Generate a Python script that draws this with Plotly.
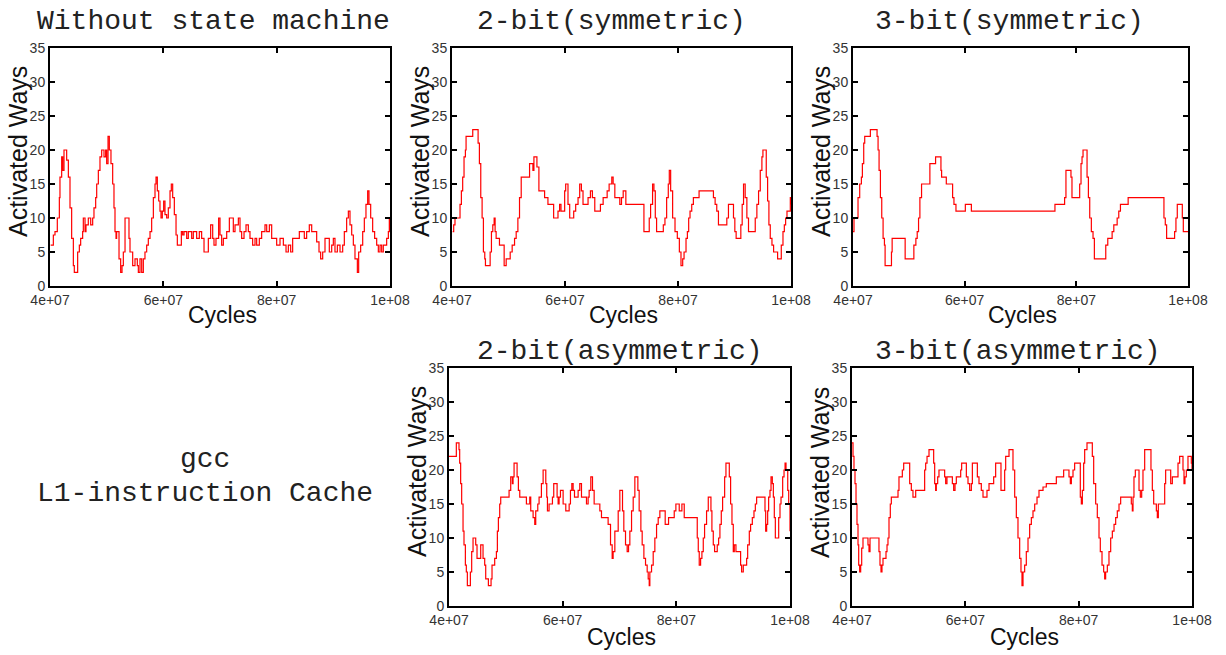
import plotly.graph_objects as go

W, H = 1226, 655

# ---------------- data (cycles in millions, activated ways) ----------------
nosm_x = [40.12, 40.59, 40.88, 41.29, 41.65, 41.76, 42.06, 42.24, 42.47, 42.76, 42.94, 43.24, 43.53, 43.82,
          44.12, 44.29, 44.71, 44.88, 45.18, 45.41, 45.76, 45.88, 46.18, 46.35, 46.76, 47.18, 47.53, 47.76,
          48.06, 48.24, 48.53, 48.82, 49.12, 49.53, 49.82, 50.0, 50.24, 50.47, 50.76, 51.06, 51.29, 51.47,
          51.65, 51.76, 52.06, 52.18, 52.47, 52.71, 52.94, 53.24, 53.71, 53.94, 54.12, 54.47, 54.59, 55.0,
          55.41, 55.59, 55.88, 56.18, 56.47, 56.76, 57.06, 57.35, 57.65, 57.94, 58.24, 58.53, 58.71, 58.94,
          59.18, 59.41, 59.59, 59.82, 60.06, 60.29, 60.59, 60.88, 61.18, 61.41, 61.65, 61.94, 62.24, 62.47,
          62.94, 63.18, 63.41, 63.65, 64.12, 64.41, 65.0, 65.29, 65.88, 66.35, 66.76, 67.18, 67.94, 68.35,
          68.71, 68.94, 69.29, 69.76, 70.0, 70.29, 70.59, 71.18, 71.65, 72.06, 72.35, 72.65, 72.94, 73.24,
          73.53, 73.82, 74.24, 74.59, 75.0, 75.29, 75.76, 76.18, 76.47, 76.94, 77.35, 77.94, 78.24, 78.71,
          79.12, 79.71, 80.0, 80.59, 81.18, 81.65, 82.06, 82.47, 82.82, 83.53, 84.0, 84.59, 84.88, 85.29,
          85.76, 86.18, 86.76, 87.06, 87.47, 87.76, 88.12, 88.53, 88.94, 89.29, 89.71, 90.0, 90.29, 90.71,
          91.18, 91.65, 91.94, 92.35, 92.65, 92.94, 93.24, 93.53, 93.82, 94.24, 94.47, 94.82, 95.18, 95.47,
          95.76, 96.06, 96.29, 96.59, 96.94, 97.29, 97.65, 97.94, 98.24, 98.53, 98.82, 99.12, 99.41, 99.71,
          99.88, 100.0]
nosm_y = [6, 7.5, 8, 10, 13, 16, 19, 17, 20, 20, 18.5, 16, 11.5, 7,
          3, 2, 2, 5, 6, 7, 8, 10, 8, 9, 10, 9, 10, 11.5,
          13, 15, 17, 19, 20, 19, 20, 18, 22, 20, 18, 15, 11.5, 8,
          7, 8, 8, 4, 2, 3, 5, 10, 10, 7, 5, 5, 3, 4,
          3, 2, 4, 2, 4, 5, 6, 7, 8, 10, 13, 15, 16, 14,
          12.5, 11, 10, 11, 12.5, 10.5, 10, 11.5, 14, 15, 13, 10.5, 7.5, 6,
          6, 8, 7.5, 8, 7, 8, 7, 8, 7, 8, 7, 5, 7, 9,
          7, 6, 7, 10, 7.5, 6, 7, 8, 10, 10, 8, 9, 9, 10,
          8, 7, 8, 9, 8, 7, 6, 7, 6, 7, 8, 9, 8, 9,
          7, 7, 6, 7, 6, 5, 6, 5, 7, 7, 8, 8, 7, 8,
          9, 8, 8, 6.5, 5, 4, 5, 7, 7, 5, 6, 7, 5, 6,
          5, 6, 8, 10, 11, 9, 7.5, 6, 4, 2, 5, 6, 8, 10,
          12, 14, 12, 10, 8, 7, 6, 5, 6, 5, 6, 6, 7, 8,
          10, 8]

sym2_x = [40.12, 40.30, 40.53, 41.18, 41.42, 41.66, 41.89, 42.13, 42.37, 42.49, 43.55, 43.67, 44.44, 44.62,
          44.85, 45.09, 45.33, 45.56, 45.80, 45.92, 46.51, 46.75, 46.98, 47.22, 47.46, 47.63, 47.81, 48.28,
          48.40, 49.11, 49.23, 49.47, 49.59, 50.06, 50.30, 50.65, 51.07, 51.36, 51.66, 51.95, 52.25, 53.43,
          53.73, 54.14, 54.32, 54.50, 54.79, 55.03, 55.38, 56.09, 56.39, 56.98, 57.75, 57.99, 58.46, 58.76,
          59.05, 59.29, 59.64, 59.94, 60.12, 60.35, 60.53, 60.83, 61.30, 61.54, 61.89, 62.31, 62.60, 62.90,
          63.19, 63.79, 64.08, 64.50, 64.85, 65.27, 66.03, 66.27, 66.75, 67.46, 67.81, 68.17, 68.28, 68.52,
          68.82, 69.41, 69.70, 70.00, 70.30, 70.59, 70.77, 73.85, 73.97, 74.73, 74.91, 75.15, 75.50, 75.74,
          75.98, 76.21, 77.10, 77.40, 77.69, 77.99, 78.28, 78.46, 78.70, 79.05, 79.47, 79.88, 80.24, 80.53,
          80.83, 81.07, 81.42, 81.66, 81.89, 82.13, 82.43, 82.72, 83.43, 83.73, 85.98, 86.27, 86.57, 86.86,
          87.16, 88.34, 88.64, 88.93, 89.53, 89.82, 90.06, 90.29, 90.89, 91.12, 91.36, 91.60, 91.89, 92.19,
          92.48, 93.37, 93.67, 93.96, 94.26, 94.56, 94.85, 95.03, 95.32, 95.62, 95.86, 96.09, 96.33, 96.63,
          96.92, 97.51, 97.63, 98.11, 98.28, 98.58, 98.82, 99.05, 99.29, 99.64, 99.88, 100.0]
sym2_y = [8, 9, 10, 10, 12, 14, 16, 19, 20, 22, 22, 23, 23, 21,
          18, 13, 10, 5, 4, 3, 3, 5, 8, 9, 10, 8, 7, 7,
          6, 6, 3, 3, 4, 4, 5, 6, 7, 8, 10, 13, 16, 16,
          18, 18, 17, 19, 19, 17.5, 14, 14, 13, 12, 12, 10, 10, 11,
          12, 11, 11, 14, 15, 15, 12, 10, 10, 11, 12, 13, 15, 14,
          12, 12, 13, 14, 13, 11, 11, 12, 13, 14, 15, 15, 16, 15,
          13, 13, 12, 13, 14, 14, 12, 12, 8, 8, 10, 12, 15, 14,
          10, 8, 8, 9, 10, 13, 15, 17, 14, 10, 8, 7, 5, 3,
          4, 5, 7, 8, 10, 11, 12, 13, 13, 14, 14, 13, 12, 11,
          9, 9, 10, 12, 12, 10, 8, 7, 7, 9, 12, 15, 13, 10,
          8, 8, 10, 12, 14, 17, 19, 20, 20, 16, 12.5, 9, 7, 6,
          5, 5, 4, 4, 6, 8, 9, 10, 11, 11, 13, 12]

sym3_x = [40.0, 40.18, 40.72, 40.90, 41.20, 41.50, 41.68, 41.92, 42.10, 42.99, 43.11, 44.07, 44.31, 44.49,
          44.67, 44.91, 45.15, 45.39, 45.63, 45.75, 46.71, 46.89, 47.01, 49.28, 49.34, 50.78, 50.90, 51.26,
          51.50, 51.74, 51.98, 52.28, 53.65, 53.77, 54.67, 54.79, 55.57, 55.75, 55.87, 56.59, 56.71, 57.66,
          57.84, 58.08, 58.44, 60.00, 60.12, 61.08, 61.20, 76.05, 76.17, 77.72, 77.90, 78.14, 78.80, 79.04,
          79.22, 80.42, 80.60, 80.84, 81.02, 81.20, 81.68, 81.92, 82.16, 82.40, 82.69, 82.99, 83.23, 85.03,
          85.27, 85.63, 86.11, 86.41, 86.71, 87.19, 87.31, 87.60, 87.90, 89.10, 89.28, 95.57, 95.69, 95.93,
          96.17, 97.37, 97.60, 97.84, 98.08, 98.80, 98.98, 99.16, 100.0]
sym3_y = [8, 10, 10, 13, 15, 16, 18, 21, 22, 22, 23, 23, 22, 20,
          17, 13, 10, 7, 6, 3, 3, 5, 7, 7, 4, 4, 6, 7,
          8, 10, 13, 15, 15, 18, 18, 19, 19, 17, 16, 16, 15, 15,
          13, 12, 11, 11, 12, 12, 11, 11, 12, 12, 13, 17, 17, 16,
          13, 13, 15, 18, 19, 20, 20, 16, 13, 10, 8, 7, 4, 4,
          6, 7, 7, 8, 9, 9, 10, 11, 12, 12, 13, 13, 10, 9,
          7, 7, 8, 10, 12, 12, 10, 8, 8]

asym2_x = [40.0, 41.0, 41.29, 41.59, 41.76, 41.88, 42.05, 42.23, 42.47, 42.64, 42.88, 43.05, 43.23, 43.64,
           43.76, 43.99, 44.23, 44.58, 44.70, 44.93, 45.40, 45.58, 45.75, 45.99, 46.28, 46.46, 46.81, 46.93,
           47.28, 47.40, 47.57, 47.87, 48.04, 48.34, 48.51, 48.69, 48.92, 49.10, 50.39, 50.57, 50.86, 51.15,
           51.27, 51.45, 51.74, 51.98, 52.21, 52.45, 53.33, 53.62, 54.09, 54.21, 54.38, 54.80, 55.09, 55.26,
           55.62, 55.85, 56.26, 56.56, 56.85, 57.03, 57.20, 57.32, 57.61, 58.02, 58.20, 58.43, 58.79, 59.02,
           59.20, 59.37, 59.61, 60.08, 60.55, 60.96, 61.14, 61.37, 61.61, 61.84, 62.08, 62.43, 62.72, 63.01,
           63.31, 63.89, 64.19, 64.48, 64.66, 64.95, 65.25, 65.54, 66.24, 66.54, 66.83, 67.83, 68.00, 68.18,
           68.42, 68.71, 68.88, 69.18, 69.47, 69.77, 70.06, 70.35, 70.53, 70.76, 71.06, 71.35, 71.59, 71.82,
           72.12, 72.41, 72.70, 73.00, 73.23, 73.46, 73.76, 73.99, 74.29, 74.58, 74.87, 75.05, 75.23, 75.34,
           75.64, 75.93, 76.22, 76.52, 76.81, 77.10, 77.81, 78.04, 78.40, 78.63, 79.45, 79.63, 79.92, 80.33,
           80.51, 80.80, 80.98, 81.21, 81.39, 83.45, 83.68, 83.86, 84.03, 84.27, 84.50, 84.74, 84.97, 85.32,
           85.62, 85.91, 86.09, 86.26, 86.50, 86.73, 86.97, 87.20, 87.44, 87.67, 87.91, 88.14, 88.50, 88.73,
           89.08, 89.32, 89.55, 89.79, 90.02, 90.20, 90.31, 90.49, 91.08, 91.31, 91.49, 91.78, 92.08, 92.37,
           92.55, 92.84, 93.07, 93.37, 93.66, 93.90, 94.13, 95.42, 95.60, 95.72, 95.89, 96.07, 96.24, 96.48,
           96.66, 96.89, 97.07, 97.24, 97.42, 97.83, 98.01, 98.24, 98.42, 98.71, 98.95, 99.13, 99.30, 99.60,
           99.77, 100.0]
asym2_y = [22, 22, 24, 24, 23, 21, 18, 15, 11, 9, 6, 5, 3, 3,
           5, 8, 10, 10, 9, 7, 7, 9, 9, 7, 6, 4, 4, 3,
           3, 4, 6, 6, 7, 8, 11, 13, 15, 16, 16, 17, 19, 18,
           19, 21, 21, 19, 17, 16, 16, 15, 15, 16, 14, 13, 12, 14,
           15, 16, 18, 20, 20, 18, 16, 14, 15, 15, 16, 18, 18, 16,
           15, 16, 17, 15, 14, 14, 15, 17, 18, 17, 16, 16, 17, 18,
           16, 16, 15, 16, 17, 19, 17, 15, 15, 14, 13, 13, 12, 12,
           9, 7, 8, 11, 11, 14, 17, 17, 14, 11, 9, 8, 9, 11,
           14, 16, 19, 19, 17, 14, 11, 9, 7, 6, 5, 4, 3, 5,
           6, 8, 10, 12, 13, 14, 14, 12, 12, 13, 13, 14, 15, 15,
           14, 14, 15, 15, 13, 13, 10, 8, 6, 7, 8, 10, 12, 14,
           16, 16, 14, 11, 9, 8, 8, 9, 10, 12, 14, 16, 19, 21,
           21, 19, 15, 12, 8, 9, 9, 8, 8, 6, 5, 6, 6, 7,
           9, 11, 12, 13, 14, 15, 16, 16, 14, 11, 12, 14, 16, 17,
           19, 18, 16, 13, 10, 10, 13, 15, 16, 19, 20, 21, 20, 17,
           15, 11]

asym3_x = [40.0, 40.18, 40.35, 40.53, 40.71, 40.88, 41.06, 41.18, 41.35, 41.53, 41.71, 41.94, 42.71, 42.82,
           43.00, 43.18, 44.59, 44.76, 44.94, 45.12, 45.29, 45.47, 45.82, 46.00, 46.18, 46.35, 46.53, 46.76,
           46.94, 47.94, 48.12, 48.29, 48.71, 48.88, 49.12, 49.94, 50.18, 50.47, 50.76, 51.06, 51.24, 52.65,
           52.82, 53.00, 53.24, 53.59, 54.18, 54.41, 54.59, 54.76, 54.88, 55.12, 55.35, 56.18, 56.35, 56.53,
           56.76, 57.53, 57.71, 57.94, 58.18, 58.41, 59.00, 59.18, 59.35, 60.00, 60.18, 60.47, 60.76, 61.06,
           61.24, 61.94, 62.12, 62.41, 62.82, 63.12, 63.59, 63.82, 64.18, 64.76, 65.00, 65.35, 66.06, 66.29,
           66.76, 66.94, 67.12, 67.53, 67.71, 68.12, 68.41, 68.71, 69.00, 69.29, 69.59, 69.82, 70.00, 70.18,
           70.47, 70.76, 71.06, 71.35, 71.65, 71.94, 72.24, 72.65, 73.00, 73.41, 73.71, 74.29, 74.59, 74.88,
           75.76, 76.06, 77.24, 77.35, 78.12, 78.29, 78.53, 78.71, 79.00, 79.29, 80.06, 80.29, 80.47, 80.65,
           80.88, 81.06, 81.47, 82.24, 82.41, 82.65, 83.00, 83.29, 83.59, 83.82, 84.12, 84.41, 84.59, 84.76,
           85.06, 85.35, 85.65, 85.94, 86.24, 86.53, 86.82, 87.12, 87.41, 89.12, 89.29, 89.47, 89.59, 89.76,
           90.00, 90.47, 90.65, 90.88, 91.12, 91.35, 91.65, 92.53, 92.76, 93.00, 93.24, 93.71, 93.88, 94.06,
           95.00, 95.18, 95.35, 96.06, 96.24, 96.53, 97.35, 97.53, 97.82, 98.24, 98.41, 98.59, 98.76, 99.00,
           99.29, 99.71, 99.88, 100.0]
asym3_y = [24, 22, 20, 18, 15, 12, 9, 6, 5, 6, 8.5, 10, 10, 9,
           8, 10, 10, 8, 6, 5, 6, 7, 7, 8, 9, 10, 13, 15,
           16, 16, 17, 19, 19, 20, 21, 21, 18, 17, 16, 16, 17, 17,
           20, 21, 22, 23, 23, 21, 18, 17, 18, 19, 20, 20, 19, 18,
           19, 19, 18, 17, 18, 19, 19, 20, 21, 21, 19, 18, 17, 18,
           21, 21, 19, 18, 17, 16, 16, 17, 18, 18, 19, 21, 21, 17,
           17, 20, 22, 22, 23, 23, 20, 16, 13, 10, 7, 5, 3, 5,
           6, 8, 10, 12, 13, 14, 15, 16, 17, 17, 17.5, 18, 18, 18,
           18, 19, 19, 20, 20, 19, 18, 19, 20, 21, 21, 16, 15, 17,
           21, 23, 24, 24, 22, 18, 15, 13, 10, 8, 6, 5, 4, 5,
           6, 8, 10, 11, 12, 13, 14, 15, 16, 16, 15, 14, 16, 19,
           20, 20, 17, 16, 17, 20, 23, 23, 20, 17, 15, 14, 13, 15,
           15, 18, 20, 20, 18, 19, 19, 21, 22, 22, 20, 18, 19, 20,
           22, 22, 21, 20]

titles = ["Without state machine", "2-bit(symmetric)", "3-bit(symmetric)",
          "2-bit(asymmetric)", "3-bit(asymmetric)"]
series = [(nosm_x, nosm_y), (sym2_x, sym2_y), (sym3_x, sym3_y), (asym2_x, asym2_y), (asym3_x, asym3_y)]
x_tickvals = [4e7, 6e7, 8e7, 1e8]
x_ticktext = ["4e+07", "6e+07", "8e+07", "1e+08"]
y_tickvals = [0, 5, 10, 15, 20, 25, 30, 35]
x_label = "Cycles"
y_label = "Activated Ways"
side_text = ["gcc", "L1-instruction Cache"]

# ---------------- layout (pixel boxes of each plot area) ----------------
boxes = [(50, 390, 48, 286), (452, 791, 48, 286), (853, 1188, 48, 286),
         (449, 790, 368, 606), (852, 1192, 368, 606)]
title_cx = [213, 611, 1009, 620, 1018]
title_cy = [22, 22, 22, 351, 351]
xlabel_gap = [29, 29, 29, 31, 31]

def px(x):
    return x / W

def py(y):
    return 1 - y / H

mono = "Courier New, Liberation Mono, monospace"
sans = "Liberation Sans, Arial, sans-serif"

fig = go.Figure()
layout = dict(width=W, height=H, margin=dict(l=0, r=0, t=0, b=0, pad=0, autoexpand=False),
              paper_bgcolor="white", plot_bgcolor="white", showlegend=False,
              annotations=[])

for i, ((xs, ys), (x0, x1, y0, y1)) in enumerate(zip(series, boxes)):
    n = "" if i == 0 else str(i + 1)
    fig.add_trace(go.Scatter(x=[v * 1e6 for v in xs], y=ys, mode="lines",
                             line=dict(color="#ff0000", width=1.2, shape="hv"),
                             xaxis="x" + n, yaxis="y" + n, hoverinfo="skip"))
    common = dict(showline=True, linecolor="black", linewidth=2, mirror="ticks",
                  ticks="inside", ticklen=5, tickwidth=1.5, tickcolor="black",
                  showgrid=False, zeroline=False, automargin=False,
                  tickfont=dict(family=sans, size=14, color="#333333"))
    layout["xaxis" + n] = dict(domain=[px(x0), px(x1)], range=[4e7, 1e8],
                               tickvals=x_tickvals, ticktext=x_ticktext,
                               anchor="y" + n, **common)
    layout["yaxis" + n] = dict(domain=[py(y1), py(y0)], range=[0, 35],
                               tickvals=y_tickvals, anchor="x" + n, **common)
    anns = layout["annotations"]
    anns.append(dict(text=titles[i], x=px(title_cx[i]), y=py(title_cy[i]), xref="paper", yref="paper",
                     xanchor="center", yanchor="middle", showarrow=False,
                     font=dict(family=mono, size=28, color="#222222")))
    anns.append(dict(text=x_label, x=px((x0 + x1) / 2 + 2), y=py(y1 + xlabel_gap[i]), xref="paper",
                     yref="paper", xanchor="center", yanchor="middle", showarrow=False,
                     font=dict(family=sans, size=23, color="#111111")))
    anns.append(dict(text=y_label, x=px(x0 - 32), y=py((y0 + y1) / 2 - 15), xref="paper", yref="paper",
                     xanchor="center", yanchor="middle", showarrow=False, textangle=-90,
                     font=dict(family=sans, size=25, color="#111111")))

layout["annotations"].append(dict(text=side_text[0], x=px(205), y=py(460), xref="paper", yref="paper",
                                  xanchor="center", yanchor="middle", showarrow=False,
                                  font=dict(family=mono, size=28, color="#222222")))
layout["annotations"].append(dict(text=side_text[1], x=px(205), y=py(493), xref="paper", yref="paper",
                                  xanchor="center", yanchor="middle", showarrow=False,
                                  font=dict(family=mono, size=28, color="#222222")))

fig.update_layout(**layout)
fig.write_html("out.html", post_script="document.body.style.margin='0px';")
